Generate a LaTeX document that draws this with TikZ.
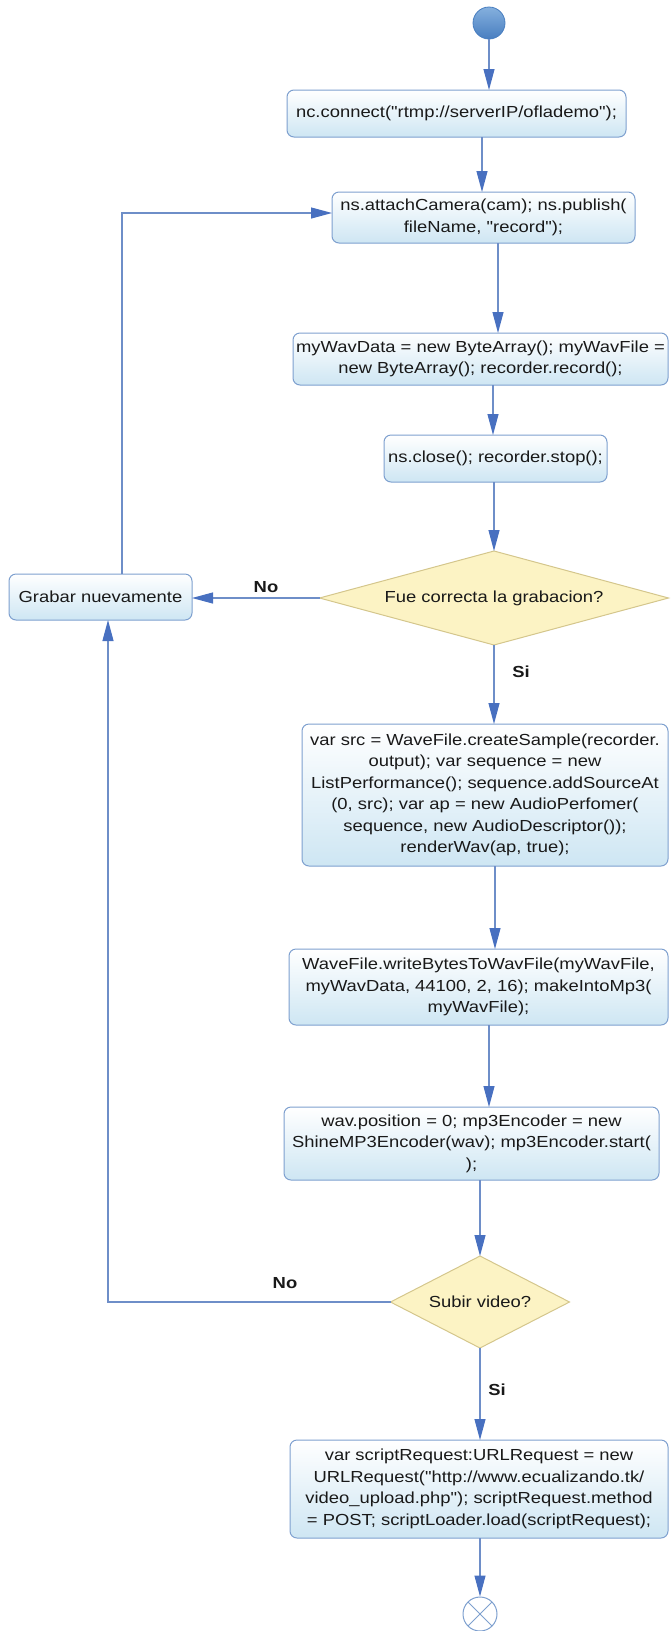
\documentclass[tikz,border=0pt]{standalone}
\usepackage{fontspec}
\setmainfont{Liberation Sans}[FakeStretch=1.15, Ligatures=TeXOff]
\usetikzlibrary{arrows.meta,shapes.geometric}

\definecolor{boxline}{RGB}{126,160,207}
\definecolor{boxlow}{RGB}{206,230,243}
\definecolor{flowline}{RGB}{110,142,200}
\definecolor{flowtip}{RGB}{72,112,192}
\definecolor{decfill}{RGB}{252,243,196}
\definecolor{decline}{RGB}{212,198,140}
\definecolor{inktext}{RGB}{25,25,25}
\definecolor{startlight}{RGB}{133,176,222}
\definecolor{startdark}{RGB}{72,126,192}

\begin{document}
\begin{tikzpicture}[x=1pt,y=-1pt,
  every node/.style={font=\fontsize{16}{21.5}\selectfont, text=inktext},
  action/.style={rectangle, rounded corners=7pt, draw=boxline, line width=1pt,
    top color=white, bottom color=boxlow, align=center, inner sep=0pt, outer sep=0pt},
  decision/.style={diamond, draw=decline, line width=1pt, fill=decfill,
    inner sep=0pt, outer sep=0pt},
  flow/.style={draw=flowline, line width=1.1pt,
    -{Triangle[length=21pt,width=11pt,color=flowtip]}},
  branch/.style={font=\fontsize{16}{19}\selectfont\bfseries}
]
\useasboundingbox (0,0) rectangle (670,1631);

% start and end
\node[circle, minimum size=32pt, inner sep=0pt, top color=startlight,
  bottom color=startdark, draw=startdark, line width=0.8pt] (start) at (489,23) {};
\node[circle, minimum size=34pt, inner sep=0pt, draw=boxline, line width=1pt, fill=white,
  path picture={\draw[boxline, line width=1pt]
    (path picture bounding box.north west) -- (path picture bounding box.south east)
    (path picture bounding box.north east) -- (path picture bounding box.south west);}]
  (fin) at (480,1614) {};

% actions
\node[action, minimum width=339pt, minimum height=47pt] (b1) at (456.5,113.5)
  {nc.connect("rtmp://serverIP/oflademo");};
\node[action, minimum width=303pt, minimum height=51pt] (b2) at (483.5,217.5)
  {ns.attachCamera(cam); ns.publish(\\ fileName, "record");};
\node[action, minimum width=375pt, minimum height=52pt] (b3) at (480.5,359)
  {myWavData = new ByteArray(); myWavFile =\\ new ByteArray(); recorder.record();};
\node[action, minimum width=223pt, minimum height=47pt] (b4) at (495.5,458.5)
  {ns.close(); recorder.stop();};
\node[action, minimum width=366pt, minimum height=142pt] (b5) at (485,795)
  {var src = WaveFile.createSample(recorder.\\ output); var sequence = new\\
   ListPerformance(); sequence.addSourceAt\\ (0, src); var ap = new AudioPerfomer(\\
   sequence, new AudioDescriptor());\\ renderWav(ap, true);};
\node[action, minimum width=379pt, minimum height=76pt] (b6) at (478.5,987)
  {WaveFile.writeBytesToWavFile(myWavFile,\\ myWavData, 44100, 2, 16); makeIntoMp3(\\ myWavFile);};
\node[action, minimum width=375pt, minimum height=73pt] (b7) at (471.5,1143.5)
  {wav.position = 0; mp3Encoder = new\\ ShineMP3Encoder(wav); mp3Encoder.start(\\ );};
\node[action, minimum width=378pt, minimum height=98pt] (b8) at (479,1489)
  {var scriptRequest:URLRequest = new\\ URLRequest("http://www.ecualizando.tk/\\
   video\_upload.php"); scriptRequest.method\\ = POST; scriptLoader.load(scriptRequest);};
\node[action, minimum width=183pt, minimum height=46pt] (grab) at (100.5,597)
  {Grabar nuevamente};

% decisions
\node[decision, minimum width=349pt, minimum height=94pt, shape aspect=3.7] (d1)
  at (494,598) {Fue correcta la grabacion?};
\node[decision, minimum width=179pt, minimum height=92pt, shape aspect=1.95] (d2)
  at (480,1302) {Subir video?};

% main flow
\draw[flow] (start) -- (start |- b1.north);
\coordinate (p1) at ([xshift=25.5pt]b1.south);
\draw[flow] (p1) -- (p1 |- b2.north);
\coordinate (p2) at ([xshift=14.5pt]b2.south);
\draw[flow] (p2) -- (p2 |- b3.north);
\coordinate (p3) at ([xshift=12.5pt]b3.south);
\draw[flow] (p3) -- (p3 |- b4.north);
\draw[flow] (d1.north |- b4.south) -- (d1.north);
\draw[flow] (d1.south) -- (d1.south |- b5.north);
\coordinate (p5) at ([xshift=10pt]b5.south);
\draw[flow] (p5) -- (p5 |- b6.north);
\coordinate (p6) at ([xshift=10.5pt]b6.south);
\draw[flow] (p6) -- (p6 |- b7.north);
\draw[flow] (d2.north |- b7.south) -- (d2.north);
\draw[flow] (d2.south) -- (d2.south |- b8.north);
\draw[flow] (fin |- b8.south) -- (fin.north);

% retry loop
\draw[flow] (d1.west) -- (d1.west -| grab.east);
\coordinate (q1) at ([xshift=7.5pt]grab.south);
\draw[flow] (d2.west) -| (q1);
\coordinate (q2) at ([xshift=21.5pt]grab.north);
\draw[flow] (q2) |- ([yshift=4.5pt]b2.west);

% branch labels
\node[branch] (no1) at (266,587) {No};
\node[branch] (si1) at (521,672) {Si};
\node[branch] (no2) at (285,1283) {No};
\node[branch] (si2) at (497,1390) {Si};
\end{tikzpicture}
\end{document}
